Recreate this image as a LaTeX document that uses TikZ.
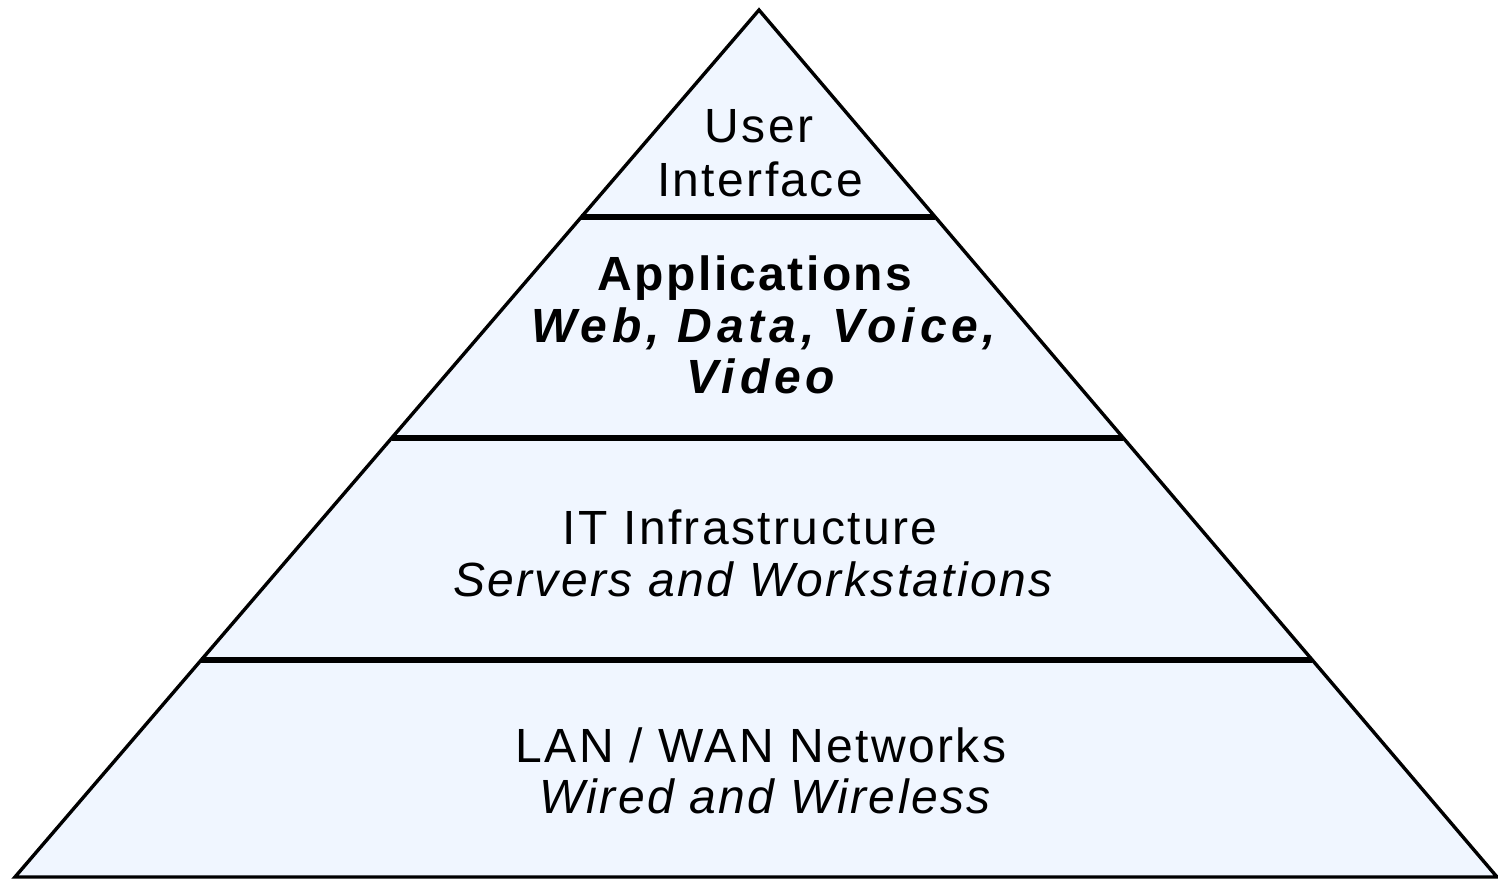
\documentclass[tikz,border=0pt]{standalone}
\usepackage{fontspec}
\newfontfamily\pyrfont[LetterSpace=5]{Liberation Sans}
\newfontfamily\pyrwide[LetterSpace=10]{Liberation Sans}
\usetikzlibrary{calc}
\definecolor{tierfill}{RGB}{240,246,255}
\begin{document}
\begin{tikzpicture}[x=0.5pt,y=-0.5pt,
  side/.style={draw=black,line width=1.7pt,line join=miter},
  tierline/.style={draw=black,line width=2.7pt},
  lbl/.style={anchor=base,inner sep=0pt,font=\pyrfont\fontsize{24}{26}\selectfont}]
\useasboundingbox (0,0) rectangle (1498,878);
\fill[white] (0,0) rectangle (1498,878);
\coordinate (apex) at (759,10);
\coordinate (L) at (15,877);
\coordinate (R) at (1497,877);
\filldraw[side,fill=tierfill] (apex) -- (L) -- (R) -- cycle;
\coordinate (l1) at ($(apex)!0.2388!(L)$);
\coordinate (r1) at ($(apex)!0.2388!(R)$);
\coordinate (l2) at ($(apex)!0.4937!(L)$);
\coordinate (r2) at ($(apex)!0.4937!(R)$);
\coordinate (l3) at ($(apex)!0.7497!(L)$);
\coordinate (r3) at ($(apex)!0.7497!(R)$);
\draw[tierline] (l1) -- (r1);
\draw[tierline] (l2) -- (r2);
\draw[tierline] (l3) -- (r3);
\node[lbl] (t1a) at (759,142) {User};
\node[lbl] (t1b) at (760,196) {Interface};
\node[lbl] (t2a) at (755,290) {\bfseries Applications};
\node[lbl,font=\pyrwide\fontsize{24}{26}\selectfont] (t2b) at (764,342) {\bfseries\itshape Web, Data, Voice,};
\node[lbl,font=\pyrwide\fontsize{24}{26}\selectfont] (t2c) at (761,393) {\bfseries\itshape Video};
\node[lbl] (t3a) at (750,544) {IT Infrastructure};
\node[lbl] (t3b) at (753,596) {\itshape Servers and Workstations};
\node[lbl] (t4a) at (761,762) {LAN / WAN Networks};
\node[lbl] (t4b) at (765,813) {\itshape Wired and Wireless};
\end{tikzpicture}
\end{document}
